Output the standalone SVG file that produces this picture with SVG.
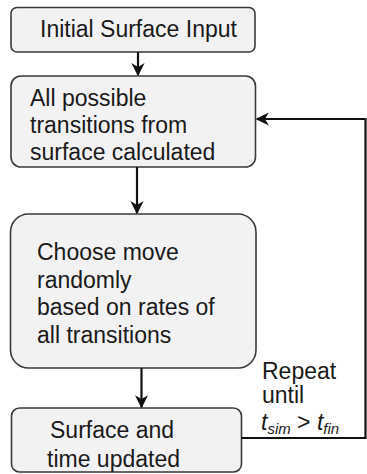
<svg xmlns="http://www.w3.org/2000/svg" width="367" height="474" viewBox="0 0 367 474">
<style>
.box{fill:#f2f2f2;stroke:#3a3a3a;stroke-width:1.6}
.t{font-family:"Liberation Sans",Arial,sans-serif;font-size:23px;fill:#1a1a1a}
.c{fill:none;stroke:#111;stroke-width:2.2}
</style>
<defs>
<marker id="ah" viewBox="0 0 10 10" refX="9" refY="5" markerWidth="6" markerHeight="6" orient="auto" markerUnits="strokeWidth">
<path d="M0,0 L10,5 L0,10 L3,5 Z" fill="#111"/>
</marker>
</defs>
<g id="n1"><rect class="box" x="11" y="7.5" width="244" height="44.5" rx="6"/><text class="t" x="40" y="37">Initial Surface Input</text></g>
<g id="n2"><rect class="box" x="11" y="76" width="244.5" height="91" rx="10"/>
<text class="t" x="30" y="106">All possible</text>
<text class="t" x="30" y="133">transitions from</text>
<text class="t" x="30" y="160">surface calculated</text></g>
<g id="n3"><rect class="box" x="10.5" y="214" width="245.5" height="154" rx="18"/>
<text class="t" x="37" y="260">Choose move</text>
<text class="t" x="37" y="288">randomly</text>
<text class="t" x="37" y="315">based on rates of</text>
<text class="t" x="37" y="343">all transitions</text></g>
<g id="n4"><rect class="box" x="11.5" y="408" width="230" height="64" rx="8"/>
<text class="t" x="50" y="438">Surface and</text>
<text class="t" x="47" y="467">time updated</text></g>
<g id="lbl">
<text class="t" x="262" y="379">Repeat</text>
<text class="t" x="262" y="403">until</text>
<text class="t" x="261" y="430"><tspan font-style="italic">t</tspan><tspan font-style="italic" font-size="15" dy="4">sim</tspan><tspan dy="-4"> &gt; </tspan><tspan font-style="italic">t</tspan><tspan font-style="italic" font-size="15" dy="4">fin</tspan></text>
</g>
<g id="connectors">
<line class="c" x1="138" y1="52" x2="138" y2="75" marker-end="url(#ah)"/>
<line class="c" x1="137" y1="167" x2="137" y2="213" marker-end="url(#ah)"/>
<line class="c" x1="141.5" y1="368" x2="141.5" y2="407" marker-end="url(#ah)"/>
<polyline class="c" points="241.5,438 365.5,438 365.5,119 257,119" marker-end="url(#ah)"/>
</g>
</svg>
